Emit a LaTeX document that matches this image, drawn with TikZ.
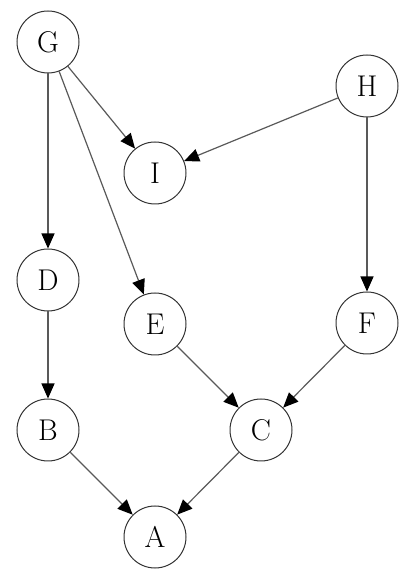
\documentclass[tikz,border=0pt]{standalone}
\usepackage{fontspec}
\usetikzlibrary{arrows.meta}
\begin{document}
\begin{tikzpicture}[x=1pt,y=1pt,
  vtx/.style={circle,draw=black!80,line width=1pt,minimum size=62pt,inner sep=0pt,font=\fontsize{30}{34}\selectfont},
  edge/.style={draw=black!65,line width=1.2pt,-{Triangle[length=15pt,width=13pt,color=black]}}]
\useasboundingbox (0,0) rectangle (410,577);
\node[vtx] (G) at (48,535) {G};
\node[vtx] (H) at (367,491) {H};
\node[vtx] (I) at (155,404) {I};
\node[vtx] (D) at (48,297) {D};
\node[vtx] (E) at (155,253) {E};
\node[vtx] (F) at (367,254) {F};
\node[vtx] (B) at (48,147) {B};
\node[vtx] (C) at (261,147) {C};
\node[vtx] (A) at (155,40) {A};
\draw[edge] (G) -- (I);
\draw[edge] (G) -- (D);
\draw[edge] (G) -- (E);
\draw[edge] (H) -- (I);
\draw[edge] (H) -- (F);
\draw[edge] (D) -- (B);
\draw[edge] (E) -- (C);
\draw[edge] (F) -- (C);
\draw[edge] (B) -- (A);
\draw[edge] (C) -- (A);
\end{tikzpicture}
\end{document}
